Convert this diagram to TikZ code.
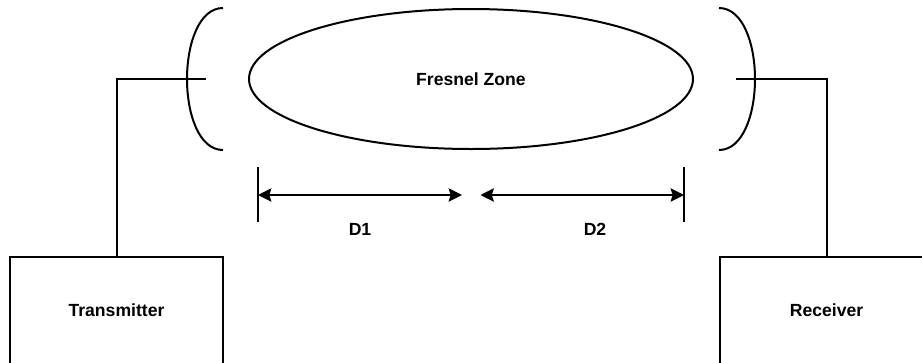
\documentclass[tikz,border=0pt]{standalone}
\usepackage{fontspec}
\setmainfont{Liberation Sans}
\usetikzlibrary{shapes.geometric,arrows.meta}
\tikzset{
	lbl/.style={font=\fontsize{13.2pt}{15pt}\selectfont\bfseries},
	radio/.style={draw,line width=1.5pt,minimum width=159.75pt,minimum height=81pt,inner sep=0pt},
}
\begin{document}
\begin{tikzpicture}[>={Stealth[length=10pt,width=10pt,inset=1.5pt]},x=0.75pt,y=-0.75pt,line width=1.5pt]
		\useasboundingbox (0,0) rectangle (922,362);
		\node[radio,lbl,name=tx] at (116.5,311){\raisebox{0.75pt}{Transmitter}};
		\node[radio,lbl,name=rx] at (826.5,311){\raisebox{0.75pt}{Receiver}};
		\node[draw,ellipse,lbl,line width=1.5pt,minimum width=333pt,minimum height=105pt,inner sep=0pt,name=zone] at (471,79){Fresnel Zone};
		\coordinate (txfeed) at (206,79);
		\coordinate (rxfeed) at (736,79);
		\draw (tx.north)--(tx.north|-txfeed)--(txfeed);
		\draw (rx.north)--(rx.north|-rxfeed)--(rxfeed);
		\draw (223,8) .. controls (199,8) and (187,44) .. (187,79) .. controls (187,114) and (199,150) .. (223,150);
		\draw (719,8) .. controls (743,8) and (755,44) .. (755,79) .. controls (755,114) and (743,150) .. (719,150);
		\coordinate (tickl) at (258,195);
		\coordinate (tickr) at (684,195);
		\coordinate (midl) at (462,195);
		\coordinate (midr) at (480.5,195);
		\draw (258,167)--(258,222);
		\draw (684,167)--(684,222);
		\draw[<->] (tickl)--(midl);
		\draw[<->] (midr)--(tickr);
		\node[lbl,name=done] at (360,229){D1};
		\node[lbl,name=dtwo] at (595,229){D2};
	\end{tikzpicture}
\end{document}
